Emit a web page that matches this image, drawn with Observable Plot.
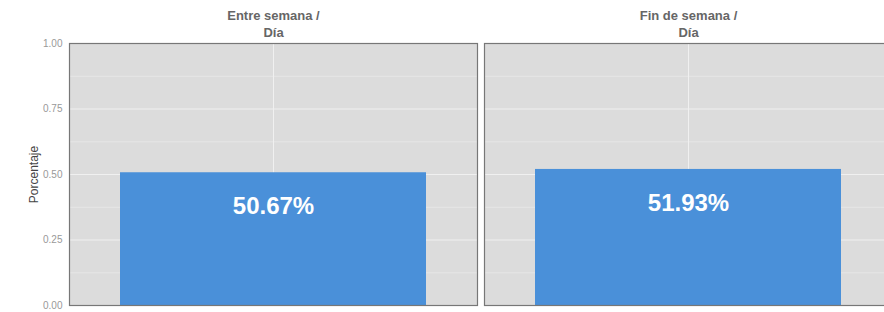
<!DOCTYPE html>
<html>
<head>
<meta charset="utf-8">
<script src="https://cdn.jsdelivr.net/npm/d3@7"></script>
<script src="https://cdn.jsdelivr.net/npm/@observablehq/plot@0.6"></script>
<style>
  html, body { margin: 0; padding: 0; background: #fff; overflow: hidden; }
  #chart svg { display: block; max-width: none !important; }
</style>
</head>
<body>
<div id="chart"></div>
<script>
const periodos = ["Entre semana", "Fin de semana"];
const franjas = ["Día", "Día"];
const porcentajes = [0.5067, 0.5193];
const etiquetas = ["50.67%", "51.93%"];
const yTicks = [0, 0.25, 0.5, 0.75, 1];
const yMinor = [0.125, 0.375, 0.625, 0.875];

const data = periodos.map((p, i) => ({periodo: p, franja: franjas[i], valor: porcentajes[i], etiqueta: etiquetas[i]}));
const facetLabel = Object.fromEntries(periodos.map((p, i) => [p, `${p} /\n${franjas[i]}`]));

const chart = Plot.plot({
  width: 892,
  height: 312,
  marginTop: 43,
  marginBottom: 7,
  marginLeft: 69,
  marginRight: 0,
  style: {fontFamily: "Arial, 'Liberation Sans', Helvetica, sans-serif", background: "#fff", maxWidth: "none"},
  fx: {domain: periodos, paddingInner: 0.017, paddingOuter: 0, label: null},
  x: {domain: ["Día"], padding: 1/7, axis: null},
  y: {domain: [0, 1], label: null},
  marks: [
    Plot.frame({fill: "#dcdcdc"}),
    Plot.gridY(yMinor, {stroke: "#e6e6e6", strokeOpacity: 1, strokeWidth: 1}),
    Plot.gridY([0.25, 0.5, 0.75], {stroke: "#f0f0f0", strokeOpacity: 1, strokeWidth: 1}),
    Plot.ruleX(data, {x: "franja", fx: "periodo", stroke: "#f0f0f0", strokeWidth: 1}),
    Plot.barY(data, {x: "franja", fx: "periodo", y: "valor", fill: "#4a90d9"}),
    Plot.text(data, {x: "franja", fx: "periodo", y: "valor", text: "etiqueta", dy: 34, fill: "#fff", fontSize: 24, fontWeight: "bold"}),
    Plot.frame({stroke: "#777", strokeWidth: 1.2}),
    Plot.axisFx({anchor: "top", tickSize: 0, tickPadding: 7, tickFormat: d => facetLabel[d], fontSize: 13, fontWeight: "bold", fill: "#666", lineHeight: 1.27, label: null}),
    Plot.axisY({ticks: yTicks, tickFormat: d3.format(".2f"), tickSize: 0, tickPadding: 7, fontSize: 10, fill: "#999", label: "Porcentaje", labelAnchor: "center", labelArrow: "none", labelOffset: 40})
  ]
});
chart.querySelectorAll("g[aria-label='y-axis label']").forEach(el => { el.setAttribute("fill", "#444"); el.setAttribute("font-size", "12"); });
document.getElementById("chart").append(chart);
</script>
</body>
</html>
